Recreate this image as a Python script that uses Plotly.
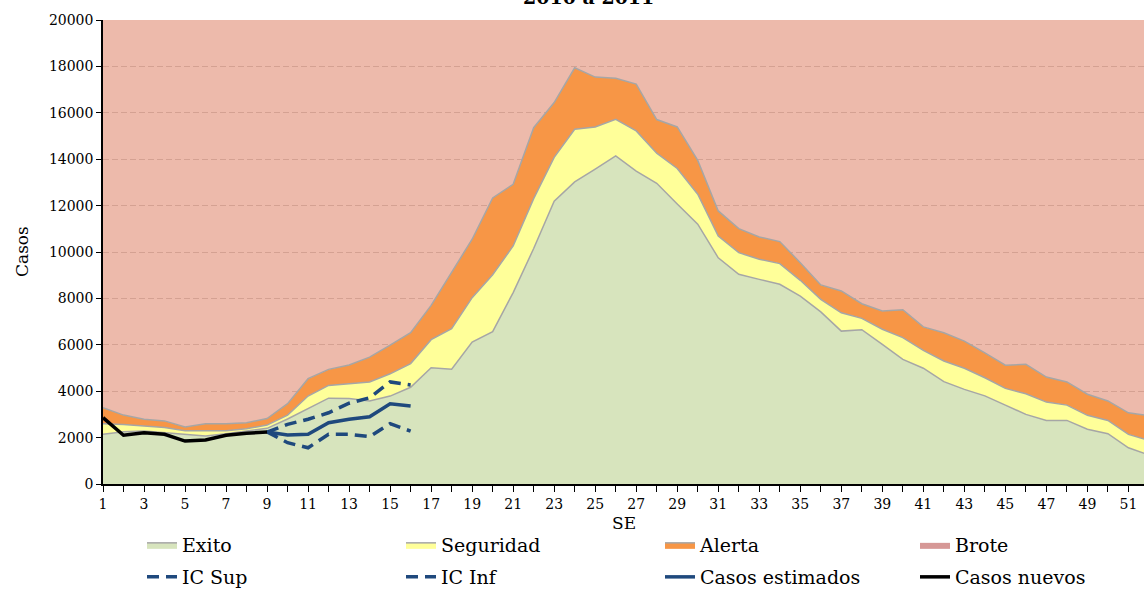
import plotly.graph_objects as go

weeks = list(range(1, 53))

# Upper limit of each zone (cumulative thresholds)
exito = [2140, 2250, 2280, 2210, 2110, 2070, 2170, 2280, 2400, 2800,
         3250, 3700, 3680, 3580, 3790, 4170, 5010, 4950, 6120, 6570,
         8250, 10150, 12190, 13020, 13570, 14140, 13490, 12960, 12070, 11200,
         9750, 9040, 8820, 8610, 8100, 7420, 6590, 6650, 6020, 5370,
         4990, 4410, 4080, 3800, 3400, 3000, 2740, 2740, 2360, 2170,
         1560, 1250]
seguridad = [2600, 2570, 2500, 2430, 2300, 2290, 2290, 2380, 2540, 2970,
             3790, 4250, 4320, 4400, 4750, 5190, 6220, 6700, 8030, 9020,
             10260, 12300, 14080, 15290, 15390, 15720, 15220, 14260, 13600, 12490,
             10690, 9970, 9690, 9500, 8780, 7960, 7380, 7140, 6670, 6310,
             5760, 5300, 4990, 4580, 4120, 3890, 3530, 3400, 2960, 2740,
             2140, 1880]
alerta = [3290, 2970, 2790, 2720, 2460, 2600, 2600, 2640, 2820, 3460,
          4540, 4940, 5130, 5470, 5990, 6520, 7700, 9100, 10550, 12330,
          12920, 15360, 16440, 17940, 17540, 17490, 17240, 15710, 15390, 13950,
          11770, 11010, 10650, 10450, 9540, 8580, 8320, 7770, 7460, 7510,
          6770, 6520, 6160, 5650, 5120, 5160, 4610, 4400, 3870, 3580,
          3070, 2950]
brote_max = 20000

nuevos_weeks = [1, 2, 3, 4, 5, 6, 7, 8, 9]
casos_nuevos = [2860, 2100, 2210, 2140, 1850, 1900, 2100, 2190, 2240]

est_weeks = [9, 10, 11, 12, 13, 14, 15, 16]
casos_estimados = [2240, 2110, 2140, 2640, 2790, 2900, 3460, 3360]
ic_sup = [2240, 2570, 2790, 3070, 3480, 3720, 4400, 4270]
ic_inf = [2240, 1780, 1560, 2140, 2140, 2040, 2600, 2280]

title_text = "2010 a 2011"
x_title = "SE"
y_title = "Casos"

FONT = "DejaVu Serif"
EDGE = "#a6a6a6"
BLUE = "#1f497d"
W, H = 1144, 598

fig = go.Figure()
fig.add_trace(go.Scatter(x=weeks, y=exito, name="Exito", mode="lines",
                         fill="tozeroy", fillcolor="#d7e4bd",
                         line=dict(color=EDGE, width=1.5), legend="legend"))
fig.add_trace(go.Scatter(x=weeks, y=seguridad, name="Seguridad", mode="lines",
                         fill="tonexty", fillcolor="#ffff99",
                         line=dict(color=EDGE, width=1.5), legend="legend"))
fig.add_trace(go.Scatter(x=weeks, y=alerta, name="Alerta", mode="lines",
                         fill="tonexty", fillcolor="#f79646",
                         line=dict(color=EDGE, width=1.5), legend="legend"))
fig.add_trace(go.Scatter(x=weeks, y=[brote_max] * len(weeks), name="Brote",
                         mode="lines", fill="tonexty",
                         fillcolor="rgba(225,140,115,0.6)",
                         line=dict(width=0), showlegend=False))
fig.add_trace(go.Scatter(x=est_weeks, y=ic_sup, name="IC Sup", mode="lines",
                         line=dict(color=BLUE, width=3.5, dash="12px,7px"),
                         legend="legend2"))
fig.add_trace(go.Scatter(x=est_weeks, y=ic_inf, name="IC Inf", mode="lines",
                         line=dict(color=BLUE, width=3.5, dash="12px,7px"),
                         legend="legend2"))
fig.add_trace(go.Scatter(x=est_weeks, y=casos_estimados, name="Casos estimados",
                         mode="lines", line=dict(color=BLUE, width=3.5),
                         legend="legend2"))
fig.add_trace(go.Scatter(x=nuevos_weeks, y=casos_nuevos, name="Casos nuevos",
                         mode="lines", line=dict(color="black", width=3.5),
                         legend="legend4"))
# legend swatch for Brote
fig.add_trace(go.Scatter(x=[None], y=[None], name="Brote", mode="lines",
                         fill="toself", fillcolor="#d69896",
                         line=dict(width=0), legend="legend3"))


def leg(x_px, y_px):
    return dict(orientation="h", xref="container", yref="container",
                x=x_px / W, xanchor="left", y=1 - y_px / H, yanchor="middle",
                font=dict(family=FONT, size=19, color="black"),
                entrywidth=214, entrywidthmode="pixels",
                bgcolor="rgba(0,0,0,0)", traceorder="normal")


fig.update_layout(
    width=W, height=H,
    margin=dict(l=103, r=0, t=20, b=114, autoexpand=False),
    paper_bgcolor="white", plot_bgcolor="white",
    font=dict(family=FONT, size=14, color="black"),
    legend=leg(142, 545),
    legend2=leg(142, 577),
    legend3=leg(915, 545),
    legend4=leg(915, 577),
    xaxis=dict(range=[1, 51.76], tick0=1, dtick=2, ticks="outside", ticklen=6,
               tickcolor="black", tickwidth=1.3, showline=True, linecolor="black",
               linewidth=1.5, showgrid=False, zeroline=False, automargin=False,
               tickfont=dict(family=FONT, size=14),
               minor=dict(dtick=1, tick0=1, ticks="outside", ticklen=6,
                          tickcolor="black", tickwidth=1.3, showgrid=False)),
    yaxis=dict(range=[0, 20000], dtick=2000, tickformat="d", ticks="outside",
               ticklen=5, tickcolor="black", tickwidth=1.3, showline=True,
               linecolor="black", linewidth=1.5, showgrid=True,
               gridcolor="#c0c0c0", griddash="6px,3px", gridwidth=1,
               zeroline=False, automargin=False, tickfont=dict(family=FONT, size=14)),
    annotations=[
        dict(text="<b>" + title_text + "</b>", xref="paper", yref="paper",
             x=(588 - 103) / 1041, y=1, xanchor="center", yanchor="bottom",
             yshift=10, showarrow=False,
             font=dict(family=FONT, size=19, color="black")),
        dict(text=x_title, xref="paper", yref="paper", x=0.5, y=0,
             xanchor="center", yanchor="middle", yshift=-39, showarrow=False,
             font=dict(family=FONT, size=17, color="black")),
        dict(text=y_title, xref="paper", yref="paper", x=0, y=0.5,
             xanchor="center", yanchor="middle", xshift=-81, textangle=-90,
             showarrow=False, font=dict(family=FONT, size=17, color="black")),
    ],
)

fig.write_html("out.html", config={"displayModeBar": False},
               post_script="document.body.style.margin='0';")
